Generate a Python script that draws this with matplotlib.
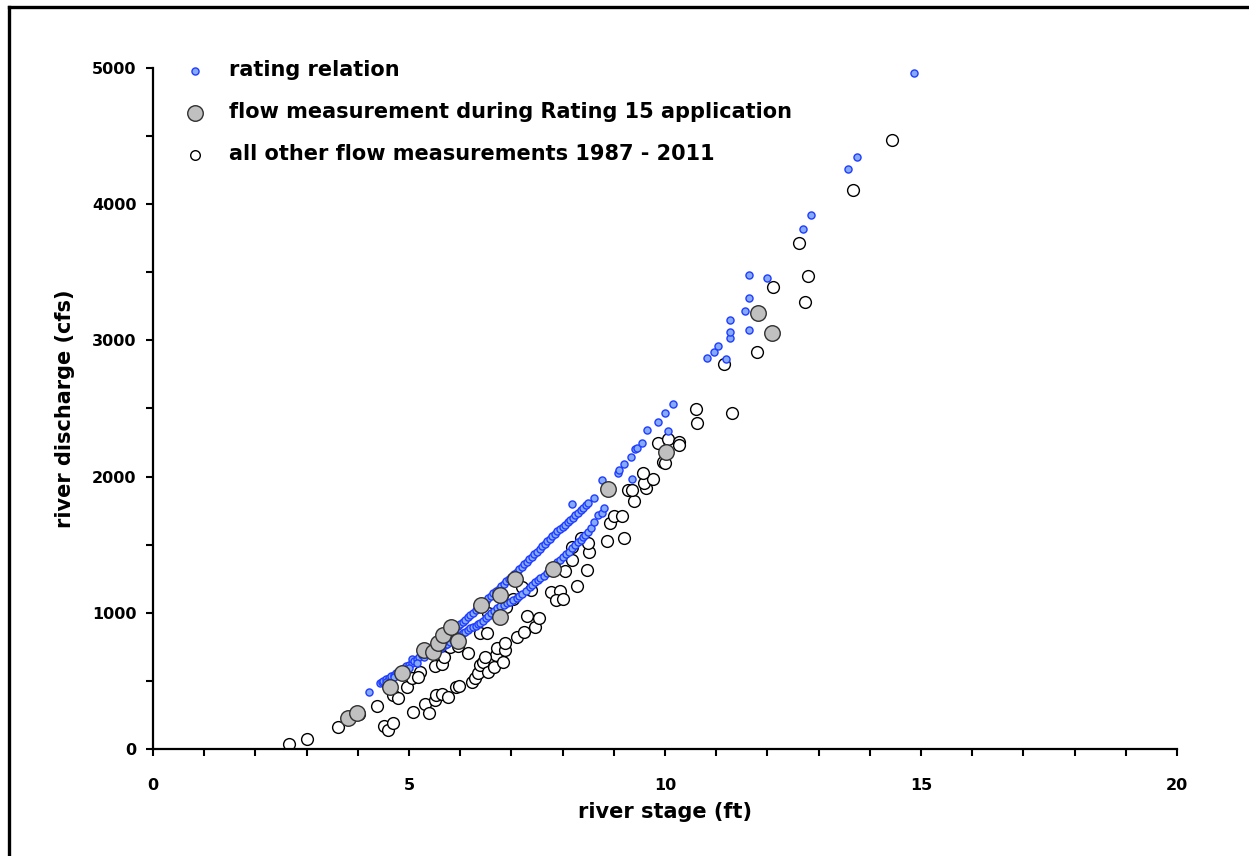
import matplotlib
matplotlib.use("Agg")
import matplotlib.pyplot as plt
from matplotlib.lines import Line2D

plt.rcParams['font.family'] = ['DejaVu Sans']
plt.rcParams['font.weight'] = 'bold'

# rating relation (stage ft, discharge cfs)
rating_stage = [4.22, 4.43, 4.47, 4.50, 4.55, 4.60, 4.65, 4.70, 4.75, 4.80, 4.85, 4.90, 4.95,
                5.00, 5.05, 5.06, 5.10, 5.15, 5.20, 5.25, 5.30, 5.35, 5.45, 5.50, 5.55, 5.62,
                5.70, 5.75, 5.80, 5.85, 5.90, 5.95, 6.00, 6.05, 6.10, 6.15, 6.20, 6.25, 6.30,
                6.35, 6.40, 6.45, 6.50, 6.55, 6.60, 6.65, 6.70, 6.75, 6.80, 6.85, 6.90, 6.95,
                7.00, 7.05, 7.10, 7.15, 7.20, 7.25, 7.30, 7.35, 7.40, 7.45, 7.50, 7.55, 7.60,
                7.65, 7.70, 7.75, 7.80, 7.85, 7.90, 7.95, 8.00, 8.05, 8.10, 8.15, 8.18, 8.20,
                8.25, 8.30, 8.35, 8.40, 8.45, 8.50, 8.61, 8.77, 9.08, 9.10, 9.20, 9.34, 9.41,
                9.45, 9.55, 9.65, 9.86, 10.00, 10.16,
                4.55, 4.70, 4.85, 5.00, 5.15, 5.30, 5.45, 5.60, 5.65, 5.70, 5.75, 5.80, 5.85,
                5.90, 5.95, 6.00, 6.05, 6.10, 6.15, 6.20, 6.25, 6.30, 6.35, 6.39, 6.45, 6.50,
                6.55, 6.60, 6.66, 6.72, 6.78, 6.85, 6.91, 6.97, 7.03, 7.10, 7.15, 7.20, 7.28,
                7.36, 7.41, 7.46, 7.51, 7.56, 7.63, 7.70, 7.75, 7.80, 7.85, 7.90, 7.95, 8.01,
                8.06, 8.12, 8.18, 8.25, 8.30, 8.35, 8.40, 8.44, 8.50, 8.55, 8.62, 8.69, 8.77,
                8.81, 9.36, 10.06,
                10.82, 10.96, 11.04, 11.19, 11.27, 11.27, 11.27, 11.56, 11.64, 11.64, 11.64,
                11.99, 12.70, 12.85, 13.57, 13.75, 14.86]
rating_flow = [418, 484, 492, 500, 511, 522, 533, 545, 556, 568, 581, 595, 607,
               620, 634, 661, 648, 661, 675, 689, 703, 718, 745, 760, 775, 800,
               822, 838, 855, 870, 885, 900, 915, 932, 950, 968, 985, 1002, 1020,
               1038, 1055, 1072, 1090, 1108, 1125, 1142, 1160, 1178, 1195, 1212, 1230, 1248,
               1265, 1283, 1300, 1319, 1338, 1356, 1375, 1394, 1412, 1430, 1448, 1468, 1488,
               1506, 1525, 1544, 1562, 1580, 1598, 1615, 1632, 1648, 1665, 1682, 1799, 1698,
               1716, 1735, 1753, 1772, 1790, 1808, 1843, 1975, 2026, 2048, 2092, 2144, 2203,
               2210, 2247, 2342, 2401, 2467, 2533,
               490, 525, 560, 598, 635, 672, 705, 735, 748, 760, 772, 785, 797,
               810, 823, 837, 850, 862, 875, 888, 896, 905, 915, 925, 942, 960,
               978, 995, 1015, 1035, 1048, 1060, 1070, 1080, 1095, 1110, 1122, 1135, 1160,
               1189, 1207, 1225, 1240, 1255, 1272, 1290, 1310, 1330, 1350, 1370, 1390, 1410,
               1430, 1450, 1475, 1500, 1518, 1535, 1553, 1571, 1595, 1620, 1670, 1718, 1733,
               1769, 1982, 2335,
               2871, 2915, 2959, 2863, 3018, 3062, 3150, 3216, 3076, 3311, 3480,
               3458, 3818, 3921, 4258, 4347, 4963]

# flow measurements during Rating 15 application
r15_stage = [3.81, 3.98, 4.63, 4.86, 5.30, 5.46, 5.57, 5.66, 5.82, 5.96, 6.41, 6.78, 6.78,
             7.07, 7.81, 8.89, 10.02, 11.82, 12.09]
r15_flow = [228, 262, 452, 560, 725, 712, 778, 840, 896, 790, 1055, 1133, 969,
            1248, 1322, 1909, 2181, 3201, 3054]

# all other flow measurements 1987 - 2011
other_stage = [2.66, 3.01, 3.61, 4.02, 4.37, 4.51, 4.59, 4.69, 4.69, 4.79, 4.96, 5.06, 5.21,
               5.18, 5.08, 5.31, 5.39, 5.51, 5.53, 5.64, 5.76, 5.92, 5.98, 5.51, 5.64, 5.68,
               5.80, 5.96, 6.15, 6.23, 6.29, 6.35, 6.39, 6.45, 6.54, 6.66, 6.70, 6.72, 6.84,
               6.88, 6.88, 6.48, 6.39, 6.52, 6.54, 6.78, 6.89, 7.03, 7.21, 7.38, 7.11, 7.25,
               7.46, 7.30, 7.54, 7.77, 7.95, 7.87, 8.00, 8.28, 8.05, 8.48, 8.18, 8.18, 8.52,
               8.36, 8.50, 8.87, 9.20, 8.93, 9.00, 9.16, 9.39, 9.28, 9.36, 9.63, 9.59, 9.77,
               9.57, 9.96, 10.00, 9.86, 10.06, 10.27, 10.27, 10.61, 10.63, 11.31, 11.15, 11.80,
               12.11, 12.73, 12.79, 12.62, 13.67, 14.43]
other_flow = [37, 73, 162, 257, 316, 169, 139, 191, 396, 374, 455, 521, 565,
              529, 268, 327, 262, 360, 396, 404, 385, 455, 460, 610, 625, 675,
              750, 756, 705, 492, 521, 558, 617, 639, 565, 602, 690, 742, 639,
              727, 778, 675, 852, 852, 998, 991, 1043, 1101, 1189, 1167, 822, 859,
              896, 977, 962, 1153, 1160, 1094, 1101, 1197, 1307, 1314, 1388, 1480, 1446,
              1549, 1513, 1527, 1549, 1659, 1711, 1711, 1821, 1902, 1902, 1916, 1953, 1982,
              2026, 2107, 2100, 2247, 2276, 2254, 2230, 2496, 2394, 2467, 2827, 2915,
              3392, 3282, 3473, 3715, 4104, 4471]

legend_labels = ["rating relation",
                 "flow measurement during Rating 15 application",
                 "all other flow measurements 1987 - 2011"]

fig = plt.figure(figsize=(12.49, 8.56), dpi=100)
ax = fig.add_axes([153/1249, 1 - 749/856, (1177 - 153)/1249, (749 - 68)/856])

h1 = ax.scatter(rating_stage, rating_flow, s=26, facecolor='#85aaff', edgecolor='#1f3cff',
                linewidths=1.0, zorder=3, label=legend_labels[0])
h2 = ax.scatter(r15_stage, r15_flow, s=125, facecolor='#c0c0c0', edgecolor='#303030',
                linewidths=1.0, zorder=4, label=legend_labels[1])
h3 = ax.scatter(other_stage, other_flow, s=72, facecolor='white', edgecolor='black',
                linewidths=1.0, zorder=2, label=legend_labels[2])

ax.set_xlim(0, 20)
ax.set_ylim(0, 5000)
ax.set_xticks([0, 5, 10, 15, 20])
ax.set_xticks(range(0, 21), minor=True)
ax.set_yticks([0, 1000, 2000, 3000, 4000, 5000])
ax.set_yticks(range(0, 5001, 500), minor=True)
ax.spines['top'].set_visible(False)
ax.spines['right'].set_visible(False)
for sp in ('left', 'bottom'):
    ax.spines[sp].set_linewidth(1.6)
ax.tick_params(which='both', direction='out', width=1.5, length=5, labelsize=11.5)
ax.tick_params(axis='x', which='both', pad=16)
ax.tick_params(axis='y', which='both', pad=7)
for lab in ax.get_xticklabels() + ax.get_yticklabels():
    lab.set_fontweight('bold')

ax.set_xlabel("river stage (ft)", fontsize=15, fontweight='bold', labelpad=6)
ax.set_ylabel("river discharge (cfs)", fontsize=15, fontweight='bold', labelpad=12)

leg = ax.legend(handles=[h1, h2, h3], loc='upper left',
                bbox_to_anchor=(185/1249, 1 - 60/856), bbox_transform=fig.transFigure,
                frameon=False, scatterpoints=1, handlelength=1.0,
                handletextpad=1.1, labelspacing=1.06, borderpad=0, borderaxespad=0,
                prop={'weight': 'bold', 'size': 15})
leg.legend_handles[2].set_sizes([48])

# outer frame (left and top edges)
fig.add_artist(Line2D([9/1249, 9/1249], [0, 1 - 7/856], transform=fig.transFigure,
                      color='black', linewidth=2.4))
fig.add_artist(Line2D([9/1249, 1], [1 - 7/856, 1 - 7/856], transform=fig.transFigure,
                      color='black', linewidth=2.4))

fig.savefig("out.png", dpi=100, facecolor='white')
